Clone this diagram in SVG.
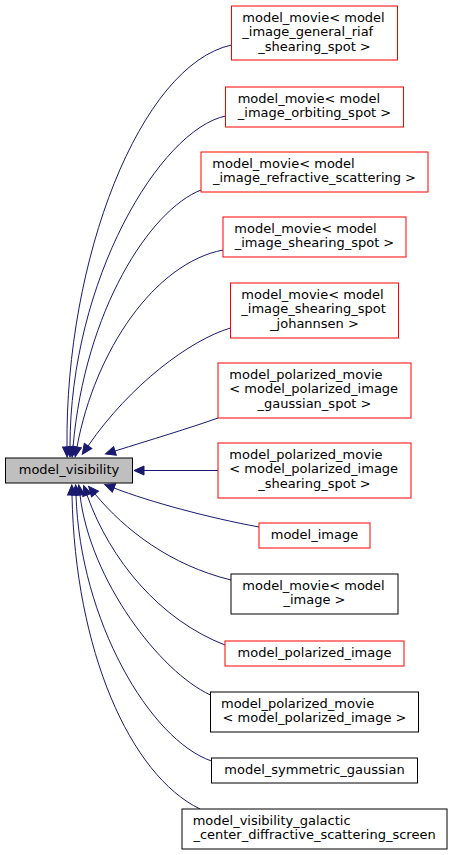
<svg xmlns="http://www.w3.org/2000/svg" width="453" height="855" viewBox="0 0 453 855">
<style>
  .n rect { fill: #ffffff; stroke-width: 1; }
  .red rect { stroke: #ff0000; }
  .blk rect { stroke: #000000; }
  .n text { font-family: "DejaVu Sans", "Liberation Sans", sans-serif; font-size: 13px; fill: #000000; }
  .c { text-anchor: middle; }
  .e path { fill: none; stroke: #191970; stroke-width: 1; marker-end: url(#ah); }
</style>
<defs>
  <marker id="ah" markerWidth="14" markerHeight="14" refX="1" refY="6" orient="auto" markerUnits="userSpaceOnUse" overflow="visible">
    <path d="M1,1.5 L11,6 L1,10.5 Z" fill="#191970" stroke="#191970" stroke-width="1"/>
  </marker>
</defs>
<rect width="453" height="855" fill="#ffffff"/>
<g id="edges" class="e">
  <path d="M231.5,45 C140,65 65,260 67,447"/>
  <path d="M225.5,116 C160,130 70,280 70,447"/>
  <path d="M201,190 C150,210 85,310 73,447"/>
  <path d="M223,250 C155,263 95,350 77,447"/>
  <path d="M230.5,328 C190,340 130,385 88,446"/>
  <path d="M218,418 C190,428 150,440 115,451"/>
  <path d="M218,470.5 L144,470.5"/>
  <path d="M259,527 C210,518 150,502 114,488"/>
  <path d="M231,580 C170,565 125,530 95,494"/>
  <path d="M225,645 C160,620 110,560 87,495"/>
  <path d="M210.5,695 C160,672 90,580 80,495"/>
  <path d="M211.5,761 C150,740 80,620 76,495"/>
  <path d="M200,809 C130,775 75,650 72,495"/>
</g>
<g id="model_visibility" class="n">
  <rect x="5.5" y="458" width="127" height="25" style="fill:#bfbfbf;stroke:#000000"/>
  <text class="c" x="69" y="473.7">model_visibility</text>
</g>
<g id="n1" class="n red">
  <rect x="231.5" y="6" width="166" height="54"/>
  <text x="242.3" y="21.7">model_movie&lt; model</text>
  <text x="242.3" y="36.2">_image_general_riaf</text>
  <text class="c" x="314.5" y="50.7">_shearing_spot &gt;</text>
</g>
<g id="n2" class="n red">
  <rect x="225.5" y="87" width="178" height="40"/>
  <text x="237.7" y="102.7">model_movie&lt; model</text>
  <text class="c" x="314.5" y="117.2">_image_orbiting_spot &gt;</text>
</g>
<g id="n3" class="n red">
  <rect x="201" y="152" width="227" height="40"/>
  <text x="212.3" y="167.7">model_movie&lt; model</text>
  <text class="c" x="314.5" y="182.2">_image_refractive_scattering &gt;</text>
</g>
<g id="n4" class="n red">
  <rect x="223" y="217" width="183" height="40"/>
  <text x="234.3" y="232.7">model_movie&lt; model</text>
  <text class="c" x="314.5" y="247.2">_image_shearing_spot &gt;</text>
</g>
<g id="n5" class="n red">
  <rect x="230.5" y="283" width="168" height="55"/>
  <text x="241.3" y="298.7">model_movie&lt; model</text>
  <text x="241.3" y="313.2">_image_shearing_spot</text>
  <text class="c" x="314.5" y="327.7">_johannsen &gt;</text>
</g>
<g id="n6" class="n red">
  <rect x="218" y="363" width="193" height="55"/>
  <text x="229.3" y="378.7">model_polarized_movie</text>
  <text x="229.3" y="393.2">&lt; model_polarized_image</text>
  <text class="c" x="314.5" y="407.7">_gaussian_spot &gt;</text>
</g>
<g id="n7" class="n red">
  <rect x="218" y="443" width="193" height="55"/>
  <text x="229.3" y="458.7">model_polarized_movie</text>
  <text x="229.3" y="473.2">&lt; model_polarized_image</text>
  <text class="c" x="314.5" y="487.7">_shearing_spot &gt;</text>
</g>
<g id="n8" class="n red">
  <rect x="259" y="523" width="111" height="25"/>
  <text class="c" x="314.5" y="538.7">model_image</text>
</g>
<g id="n9" class="n blk">
  <rect x="231" y="574" width="167" height="40"/>
  <text x="242.3" y="589.7">model_movie&lt; model</text>
  <text class="c" x="314.5" y="604.2">_image &gt;</text>
</g>
<g id="n10" class="n red">
  <rect x="225" y="641" width="179" height="25"/>
  <text class="c" x="314.5" y="656.7">model_polarized_image</text>
</g>
<g id="n11" class="n blk">
  <rect x="210.5" y="692" width="208" height="40"/>
  <text x="221" y="707.7">model_polarized_movie</text>
  <text class="c" x="314.5" y="722.2">&lt; model_polarized_image &gt;</text>
</g>
<g id="n12" class="n blk">
  <rect x="211.5" y="758" width="206" height="25"/>
  <text class="c" x="314.5" y="773.7">model_symmetric_gaussian</text>
</g>
<g id="n13" class="n blk">
  <rect x="182" y="809" width="265" height="40"/>
  <text x="192.7" y="824.7">model_visibility_galactic</text>
  <text class="c" x="314.5" y="839.2">_center_diffractive_scattering_screen</text>
</g>
</svg>
